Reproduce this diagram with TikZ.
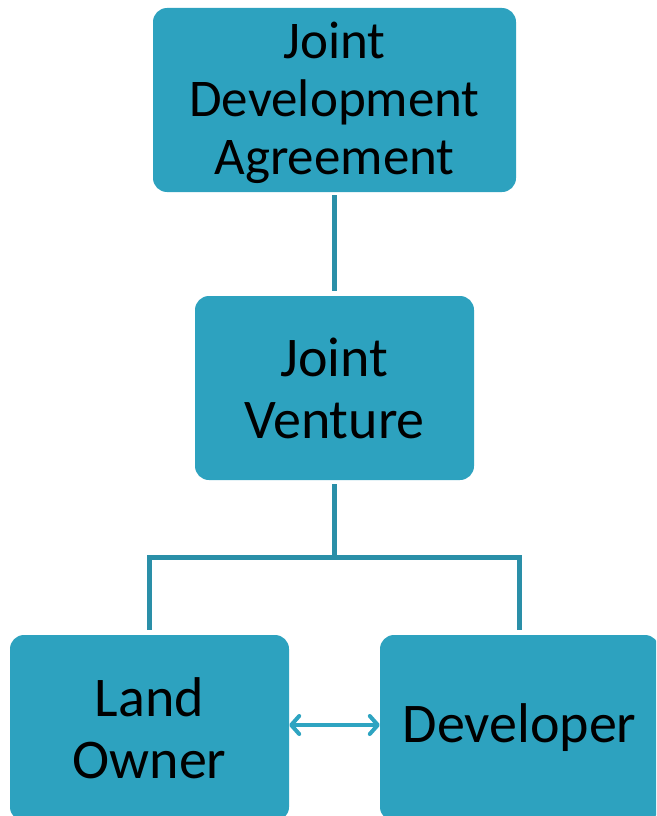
\documentclass[tikz,border=0pt]{standalone}
\usepackage{fontspec}
\setmainfont{Carlito}
\usetikzlibrary{arrows.meta}
\definecolor{boxfill}{HTML}{2DA2BF}
\definecolor{linkcol}{HTML}{2A8FA8}
\definecolor{arrowcol}{HTML}{2EA4C1}
\tikzset{
  card/.style={fill=boxfill, draw=none, rounded corners=14pt,
    minimum width=279pt, minimum height=184pt, align=center,
    inner sep=0pt, font=\fontsize{56}{62}\selectfont, text=black},
  link/.style={draw=linkcol, line width=5pt, line join=miter},
  twoway/.style={draw=arrowcol, line width=4pt,
    {Straight Barb[round,length=8pt,width=18pt]}-{Straight Barb[round,length=8pt,width=18pt]}}
}
\begin{document}
\begin{tikzpicture}[x=1pt,y=-1pt]
  \useasboundingbox (0,0) rectangle (656,816);
  \clip (0,0) rectangle (656,816);

  % boxes
  \node[card, minimum width=363pt] (jda) at (334.5,100) {};
  \node[align=center, inner sep=0pt, font=\fontsize{53}{58}\selectfont] (jdatext)
    at ([yshift=-3pt]jda.center) {Joint\\Development\\Agreement};
  \node[card] (jv) at (334.5,388) {Joint\\Venture};
  \node[card, minimum height=186pt] (lo) at (149.5,728) {Land\\Owner};
  \node[card, minimum height=186pt] (dev) at (519.5,728) {Developer};

  % connectors
  \coordinate (br) at (334.5,557);
  \draw[link] ([yshift=-3pt]jda.south) -- ([yshift=5pt]jv.north);
  \draw[link] ([yshift=-4pt]jv.south) -- (br) -| ([yshift=5pt]lo.north);
  \draw[link] (br) -| ([yshift=5pt]dev.north);

  % two-way relation between the parties
  \draw[twoway] ([yshift=3pt]lo.east) -- ([yshift=3pt]dev.west);
\end{tikzpicture}
\end{document}
